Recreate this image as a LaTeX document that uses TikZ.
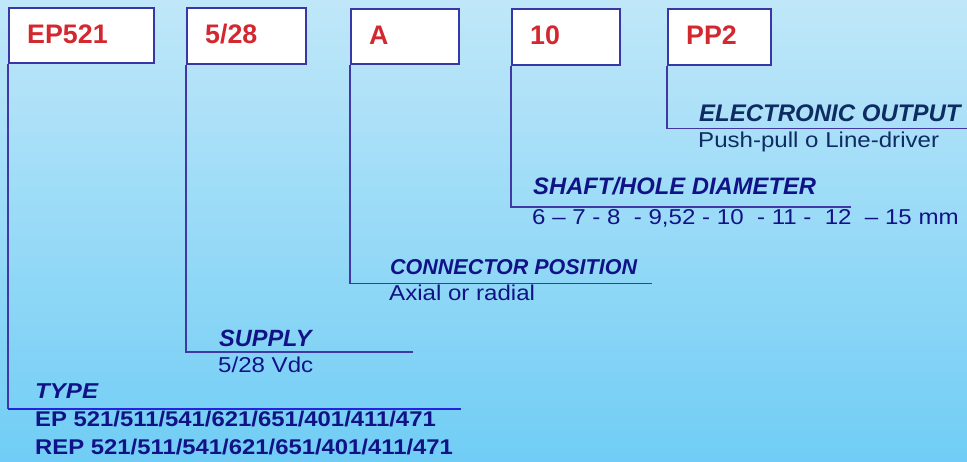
\documentclass[tikz,border=0pt]{standalone}
\usepackage{fontspec}
\setmainfont{Liberation Sans}
\newfontfamily\widefont[FakeStretch=1.12]{Liberation Sans}
\definecolor{bgtop}{RGB}{192,231,249}
\definecolor{bgmid}{RGB}{142,216,247}
\definecolor{bgbot}{RGB}{112,205,245}
\definecolor{boxblue}{RGB}{55,55,165}
\definecolor{linecol}{RGB}{65,55,165}
\definecolor{typeline}{RGB}{35,35,225}
\definecolor{boxred}{RGB}{212,40,48}
\definecolor{navy}{RGB}{18,18,135}
\definecolor{deepnavy}{RGB}{14,44,98}
\begin{document}
\begin{tikzpicture}[x=1pt,y=-1pt,
  codebox/.style={draw=boxblue, line width=2.4pt, fill=white, anchor=north west,
    inner xsep=18pt, inner ysep=0pt, text height=19pt, text depth=4pt, align=left,
    font=\bfseries\fontsize{26.8}{30}\selectfont, text=boxred},
  conn/.style={draw=linecol, line width=1.6pt},
  txt/.style={anchor=base west, inner sep=0pt, text=navy},
  head/.style={txt, font=\bfseries\itshape\fontsize{21.5}{24}\selectfont},
  body/.style={txt, font=\widefont\fontsize{21.5}{24}\selectfont},
]
\useasboundingbox (0,0) rectangle (967,461);
\shade[top color=bgtop, middle color=bgmid, bottom color=bgbot] (0,0) rectangle (967,461);

% code boxes
\node[codebox, minimum width=145, minimum height=55, text width=109] (b1) at (8,7) {EP521};
\node[codebox, minimum width=119, minimum height=56, text width=83] (b2) at (186,7) {5/28};
\node[codebox, minimum width=108, minimum height=55, text width=72] (b3) at (350,8) {A};
\node[codebox, minimum width=108, minimum height=56, text width=72] (b4) at (511,8) {10};
\node[codebox, minimum width=103, minimum height=56, text width=67] (b5) at (667,8) {PP2};

% line ends
\coordinate (e1) at (461,409);
\coordinate (e2) at (413,352);
\coordinate (e3) at (652,283.5);
\coordinate (e4) at (851,207);
\coordinate (e5) at (967,128.5);

\draw[conn] (b2.south west) |- (e2);
\draw[conn] (b3.south west) |- (e3);
\draw[conn] (b4.south west) |- (e4);
\draw[conn] (b5.south west) |- (e5);
\draw[conn] (b1.south west) -- (b1.south west |- e1);
\draw[draw=typeline, line width=1.6pt] (b1.south west |- e1) -- (e1);

% texts
\node[head, font=\bfseries\itshape\fontsize{24}{26}\selectfont, text=deepnavy] (t5) at (699,121) {ELECTRONIC OUTPUT};
\node[body, text=deepnavy] (d5) at (698,147.5) {Push-pull o Line-driver};

\node[head, font=\bfseries\itshape\fontsize{23.8}{26}\selectfont] (t4) at (533,194) {SHAFT/HOLE DIAMETER};
\node[body] (d4) at (532,224) {6 – 7 - 8~ - 9,52 - 10~ - 11 -~ 12~ – 15 mm};

\node[head] (t3) at (390,274.3) {CONNECTOR POSITION};
\node[body] (d3) at (389,300.7) {Axial or radial};

\node[head, font=\bfseries\itshape\fontsize{23.5}{26}\selectfont] (t2) at (219,346) {SUPPLY};
\node[body] (d2) at (218,372.7) {5/28 Vdc};

\node[head, font=\widefont\bfseries\itshape\fontsize{21.5}{24}\selectfont] (t1) at (35,398.3) {TYPE};
\node[body, font=\widefont\bfseries\fontsize{21.3}{24}\selectfont] (d1a) at (35,426) {EP 521/511/541/621/651/401/411/471};
\node[body, font=\widefont\bfseries\fontsize{21.3}{24}\selectfont] (d1b) at (35,454) {REP 521/511/541/621/651/401/411/471};
\end{tikzpicture}
\end{document}
